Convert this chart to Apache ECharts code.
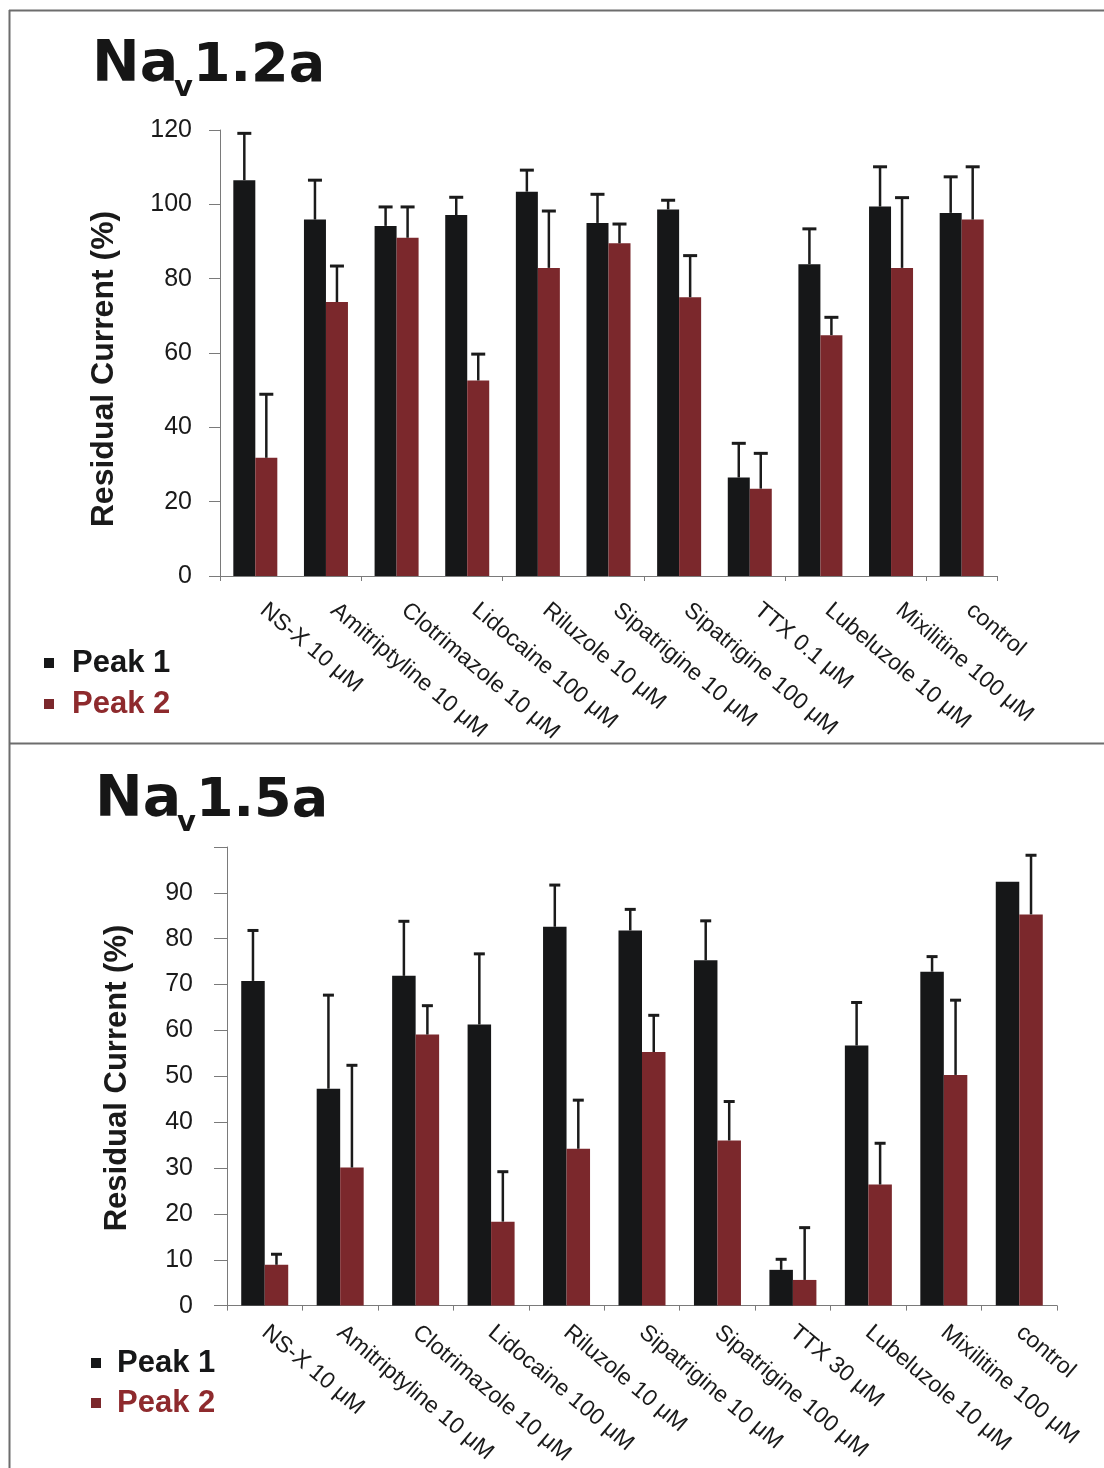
<!DOCTYPE html>
<html>
<head>
<meta charset="utf-8">
<script src="https://cdn.jsdelivr.net/npm/echarts@6/dist/echarts.min.js"></script>
<style>
  html, body { margin: 0; padding: 0; background: #ffffff; }
  #chart { width: 1104px; height: 1468px; }
</style>
</head>
<body>
<div id="chart"></div>
<script>
// Drug screen: residual sodium current after each compound, two peaks per channel.
const catsNav12 = ['NS-X 10 μM', 'Amitriptyline 10 μM', 'Clotrimazole 10 μM', 'Lidocaine 100 μM',
  'Riluzole 10 μM', 'Sipatrigine 10 μM', 'Sipatrigine 100 μM', 'TTX 0.1 μM',
  'Lubeluzole 10 μM', 'Mixilitine 100 μM', 'control'];
const catsNav15 = ['NS-X 10 μM', 'Amitriptyline 10 μM', 'Clotrimazole 10 μM', 'Lidocaine 100 μM',
  'Riluzole 10 μM', 'Sipatrigine 10 μM', 'Sipatrigine 100 μM', 'TTX 30 μM',
  'Lubeluzole 10 μM', 'Mixilitine 100 μM', 'control'];

// Nav1.2a: mean residual current (%) and upper error
const nav12Peak1 = [106.5, 95.9, 94.2, 97.1, 103.4, 95.0, 98.6, 26.5, 83.9, 99.4, 97.7];
const nav12Peak1Err = [12.6, 10.6, 5.1, 4.8, 5.8, 7.7, 2.5, 9.2, 9.5, 10.7, 9.7];
const nav12Peak2 = [31.8, 73.7, 91.0, 52.6, 82.9, 89.5, 75.0, 23.5, 64.8, 82.9, 95.9];
const nav12Peak2Err = [17.1, 9.7, 8.3, 7.1, 15.3, 5.2, 11.2, 9.5, 4.8, 18.9, 14.2];

// Nav1.5a: mean residual current (%) and upper error
const nav15Peak1 = [70.8, 47.3, 71.9, 61.3, 82.6, 81.8, 75.3, 7.8, 56.7, 72.8, 92.4];
const nav15Peak1Err = [11.0, 20.4, 11.9, 15.4, 9.1, 4.6, 8.6, 2.3, 9.4, 3.3, null];
const nav15Peak2 = [8.9, 30.1, 59.1, 18.3, 34.2, 55.3, 36.0, 5.6, 26.4, 50.3, 85.3];
const nav15Peak2Err = [2.3, 22.3, 6.3, 10.9, 10.6, 8.0, 8.5, 11.4, 9.0, 16.3, 12.9];

const BLACK = '#161718';
const RED = '#7b282c';
const AXIS = '#7a7a7a';
const TXT = '#1a1a1a';
const BW_TOP = 22;
const BW_BOT = 23.5;

function errData(means, errs, side) {
  const out = [];
  means.forEach((m, i) => {
    if (errs[i] != null) out.push([i, m, m + errs[i], side]);
  });
  return out;
}

function errRender(barW, capW) {
  return function (params, api) {
    const i = api.value(0);
    const base = api.coord([i, api.value(1)]);
    const top = api.coord([i, api.value(2)]);
    const x = base[0] + api.value(3) * barW / 2;
    return {
      type: 'group',
      children: [
        { type: 'line', shape: { x1: x, y1: base[1], x2: x, y2: top[1] },
          style: { stroke: '#1b1b1b', lineWidth: 2.5 } },
        { type: 'line', shape: { x1: x - capW / 2, y1: top[1], x2: x + capW / 2, y2: top[1] },
          style: { stroke: '#1b1b1b', lineWidth: 3 } }
      ]
    };
  };
}

const chart = echarts.init(document.getElementById('chart'), null, { renderer: 'canvas' });

const titleFont = '"DejaVu Sans", sans-serif';
function titleGroup(x, baseY, rest) {
  return {
    type: 'group',
    children: [
      { type: 'text', x: x, y: baseY - 17, style: { text: 'Na', font: 'bold 57px ' + titleFont, fill: '#161616', verticalAlign: 'middle', align: 'left' } },
      { type: 'text', x: x + 82, y: baseY + 5, style: { text: 'v', font: 'bold 29px ' + titleFont, fill: '#161616', verticalAlign: 'middle', align: 'left' } },
      { type: 'text', x: x + 101, y: baseY - 16, style: { text: rest, font: 'bold 54px ' + titleFont, fill: '#161616', verticalAlign: 'middle', align: 'left' } }
    ]
  };
}

const option = {
  backgroundColor: '#ffffff',
  animation: false,
  textStyle: { fontFamily: '"Liberation Sans", Arial, sans-serif' },
  grid: [
    { left: 220, right: 107, top: 130, bottom: 892, containLabel: false },
    { left: 227, right: 47, top: 847, bottom: 160, containLabel: false }
  ],
  legend: [
    {
      orient: 'vertical', left: 44, top: 647, padding: 0,
      itemWidth: 10, itemHeight: 10, itemGap: 9, icon: 'rect',
      textStyle: { fontSize: 31, fontWeight: 'bold', lineHeight: 32, padding: [0, 0, 0, 13] },
      data: [
        { name: 'Peak 1', textStyle: { color: '#161718' } },
        { name: 'Peak 2', textStyle: { color: '#8e2a2d' } }
      ]
    },
    {
      orient: 'vertical', left: 91, top: 1347, padding: 0,
      itemWidth: 10, itemHeight: 10, itemGap: 8, icon: 'rect',
      textStyle: { fontSize: 31, fontWeight: 'bold', lineHeight: 32, padding: [0, 0, 0, 11] },
      data: [
        { name: 'Peak 1', textStyle: { color: '#161718' } },
        { name: 'Peak 2', textStyle: { color: '#8e2a2d' } }
      ]
    }
  ],
  xAxis: [
    {
      type: 'category', gridIndex: 0, data: catsNav12,
      axisLine: { lineStyle: { color: AXIS, width: 1 } },
      axisTick: { show: true, interval: 1, length: 5, lineStyle: { color: AXIS } },
      axisLabel: { interval: 0, rotate: -40, margin: 25, fontSize: 23, color: TXT, padding: [0, 0, 0, 10] }
    },
    {
      type: 'category', gridIndex: 1, data: catsNav15,
      axisLine: { lineStyle: { color: AXIS, width: 1 } },
      axisTick: { show: true, interval: 0, length: 5, lineStyle: { color: AXIS } },
      axisLabel: { interval: 0, rotate: -40, margin: 24, fontSize: 23, color: TXT }
    }
  ],
  yAxis: [
    {
      type: 'value', gridIndex: 0, min: 0, max: 120, interval: 20,
      axisLine: { show: true, lineStyle: { color: AXIS, width: 1 } },
      axisTick: { show: true, length: 11, lineStyle: { color: AXIS } },
      axisLabel: { margin: 28, fontSize: 25, color: TXT },
      splitLine: { show: false }
    },
    {
      type: 'value', gridIndex: 1, min: 0, max: 100, interval: 10,
      axisLine: { show: true, lineStyle: { color: AXIS, width: 1 } },
      axisTick: { show: true, length: 13, lineStyle: { color: AXIS } },
      axisLabel: { margin: 34, fontSize: 25, color: TXT, formatter: v => (v === 100 ? '' : v) },
      splitLine: { show: false }
    }
  ],
  series: [
    { name: 'Peak 1', type: 'bar', xAxisIndex: 0, yAxisIndex: 0, data: nav12Peak1, barWidth: BW_TOP, barGap: '0%', itemStyle: { color: BLACK } },
    { name: 'Peak 2', type: 'bar', xAxisIndex: 0, yAxisIndex: 0, data: nav12Peak2, barWidth: BW_TOP, barGap: '0%', itemStyle: { color: RED } },
    { name: 'err12a', type: 'custom', xAxisIndex: 0, yAxisIndex: 0, z: 5, renderItem: errRender(BW_TOP, 14), data: errData(nav12Peak1, nav12Peak1Err, -1) },
    { name: 'err12b', type: 'custom', xAxisIndex: 0, yAxisIndex: 0, z: 5, renderItem: errRender(BW_TOP, 14), data: errData(nav12Peak2, nav12Peak2Err, 1) },
    { name: 'Peak 1', type: 'bar', xAxisIndex: 1, yAxisIndex: 1, data: nav15Peak1, barWidth: BW_BOT, barGap: '0%', itemStyle: { color: BLACK } },
    { name: 'Peak 2', type: 'bar', xAxisIndex: 1, yAxisIndex: 1, data: nav15Peak2, barWidth: BW_BOT, barGap: '0%', itemStyle: { color: RED } },
    { name: 'err15a', type: 'custom', xAxisIndex: 1, yAxisIndex: 1, z: 5, renderItem: errRender(BW_BOT, 11), data: errData(nav15Peak1, nav15Peak1Err, -1) },
    { name: 'err15b', type: 'custom', xAxisIndex: 1, yAxisIndex: 1, z: 5, renderItem: errRender(BW_BOT, 11), data: errData(nav15Peak2, nav15Peak2Err, 1) }
  ],
  graphic: [
    // panel frame
    { type: 'line', shape: { x1: 9, y1: 10.5, x2: 1104, y2: 10.5 }, style: { stroke: '#6d6d6d', lineWidth: 2 } },
    { type: 'line', shape: { x1: 9.5, y1: 10, x2: 9.5, y2: 1468 }, style: { stroke: '#6d6d6d', lineWidth: 2 } },
    { type: 'line', shape: { x1: 9, y1: 743.5, x2: 1104, y2: 743.5 }, style: { stroke: '#6d6d6d', lineWidth: 2 } },
    // panel titles
    titleGroup(92, 83, '1.2a'),
    titleGroup(95, 818, '1.5a'),
    // y-axis titles
    { type: 'text', x: 104, y: 369, rotation: Math.PI / 2,
      style: { text: 'Residual Current (%)', font: 'bold 32px "Liberation Sans", Arial, sans-serif', fill: TXT, align: 'center', verticalAlign: 'middle' } },
    { type: 'text', x: 117, y: 1078, rotation: Math.PI / 2,
      style: { text: 'Residual Current (%)', font: 'bold 31px "Liberation Sans", Arial, sans-serif', fill: TXT, align: 'center', verticalAlign: 'middle' } }
  ]
};

chart.setOption(option);
</script>
</body>
</html>
